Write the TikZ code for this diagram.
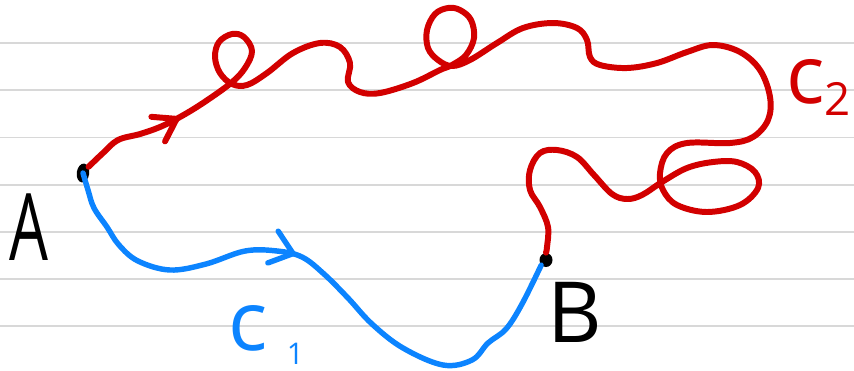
\documentclass[tikz,border=0pt]{standalone}
\usepackage{fontspec}
\setmainfont{Open Sans}
\usepackage{tikz}
\usetikzlibrary{shapes.geometric}
\usetikzlibrary{arrows.meta}
\usetikzlibrary{decorations.markings}

\definecolor{penred}{RGB}{210,0,0}
\definecolor{penblue}{RGB}{12,132,255}
\definecolor{ruling}{RGB}{216,216,216}

\begin{document}
\begin{tikzpicture}[x=0.02cm, y=-0.02cm,
    endpoint/.style={ellipse, fill=black, draw=none, inner sep=0pt},
    pen/.style={line width=#1, line cap=round, line join=round},
    midarrow/.style 2 args={postaction={decorate, decoration={markings,
        mark=at position #1 with {\arrow{Straight Barb[length=12pt, width=#2, round]}}}}},
    biglabel/.style={anchor=base west, inner sep=0pt}]
          \useasboundingbox (0,0) rectangle (854,370);

          % ruled paper
          \foreach \y in {43.3, 90.4, 137.5, 184.6, 231.7, 278.8, 325.9}
            \draw[ruling, line width=1.1pt] (0,\y) -- (854,\y);

          \node[endpoint, minimum width=0.25cm, minimum height=0.38cm, rotate=-8] (A) at (83,173) {};
          \node[endpoint, minimum width=0.26cm, minimum height=0.28cm] (B) at (546,260) {};

          % c1
          \draw[penblue, pen=3.1pt, midarrow={153pt}{19pt}] plot[smooth, tension=0.6] coordinates {
            (A) (88,190) (94,208) (107,227) (119,245) (138,261) (170,270) (206,264)
            (245,251) (277,251) (302,257) (324,274) (348,298) (372,324) (403,348)
            (443,365) (472,360) (488,343) (506,329) (522,304) (B.south west)};

          % c2
          \draw[penred, pen=3.4pt, midarrow={60pt}{16pt}] plot[smooth, tension=0.6] coordinates {
            (A.north east) (103,153) (118,140) (140,134) (160,127) (180,117) (203,103)
            (231,83) (245,68) (252,51) (244,37) (232,34) (219,42) (215,57) (220,73)
            (232,84) (247,85) (267,73) (293,53) (320,43) (340,47) (350,63) (348,82)
            (360,92) (380,93) (413,83) (440,70) (452,65) (466,55) (474,38) (471,20)
            (460,10) (448,8) (435,14) (427,30) (428,48) (438,60) (452,66) (470,60)
            (497,43) (523,28) (553,23) (577,28) (587,40) (590,57) (600,65) (627,68)
            (657,63) (687,52) (713,45) (740,52) (760,70) (770,97) (768,120) (753,137)
            (730,143) (687,143) (667,153) (660,173) (663,190) (677,205) (707,212)
            (740,205) (758,188) (755,172) (737,162) (713,162) (687,168) (662,182)
            (642,195) (627,199) (612,194) (594,175) (577,157) (557,150) (540,153)
            (530,170) (530,190) (540,207) (548,227) (547,247) (B.north)};

          \node[biglabel, font=\fontsize{53}{53}\selectfont] (labA) at (9,260) {\scalebox{0.66}[1]{A}};
          \node[biglabel, font=\fontsize{48}{48}\selectfont] (labB) at (547,342) {B};
          \node[biglabel, text=penblue, font=\fontsize{47}{47}\selectfont] (labc1) at (228,350)
            {c\hspace{11pt}\raisebox{-8pt}{\fontsize{17}{17}\selectfont 1}};
          \node[biglabel, text=penred, font=\fontsize{46}{46}\selectfont] (labc2) at (786,103)
            {c\hspace{0pt}\raisebox{-7pt}{\fontsize{26}{26}\selectfont 2}};
        \end{tikzpicture}
\end{document}
